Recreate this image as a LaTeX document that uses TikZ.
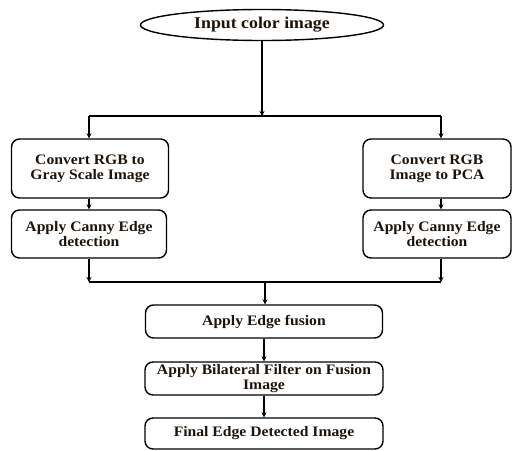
\documentclass[tikz,border=0pt]{standalone}
\usepackage{fontspec}
\newfontfamily\flowfont[FakeStretch=1.08]{Liberation Serif}
\usetikzlibrary{shapes.geometric,arrows.meta}

\tikzset{
	flowtext/.style={font=\flowfont\bfseries\fontsize{14.5}{15}\selectfont, text=black!85!brown},
	stepbox/.style={draw, line width=1.4pt, rounded corners=8pt, align=center, inner sep=1pt, flowtext},
	startoval/.style={draw, ellipse, line width=1.4pt, inner sep=0pt, flowtext, font=\flowfont\bfseries\fontsize{16.5}{17}\selectfont},
	flowline/.style={line width=1.4pt},
	flowarrow/.style={line width=1.4pt, -{Stealth[length=5pt,width=5pt]}}
}

\begin{document}
\begin{tikzpicture}[x=1pt,y=-1pt]
	\useasboundingbox (0,0) rectangle (513,450);
	
	\node[startoval, minimum width=243pt, minimum height=31pt] (input) at (262,25) {Input color image};
	
	\node[stepbox, minimum width=157pt, minimum height=59pt] (gray) at (90,168.5) {Convert RGB to\\Gray Scale Image};
	\node[stepbox, minimum width=155pt, minimum height=48pt] (cannyL) at (89,234) {Apply Canny Edge\\detection};
	\node[stepbox, minimum width=148pt, minimum height=59pt] (pca) at (437,168.5) {Convert RGB\\Image to PCA};
	\node[stepbox, minimum width=148pt, minimum height=48pt] (cannyR) at (437,234) {Apply Canny Edge\\detection};
	
	\node[stepbox, minimum width=237pt, minimum height=33pt] (fusion) at (264,321.5) {Apply Edge fusion};
	\node[stepbox, minimum width=238pt, minimum height=33pt] (bilat) at (264,378.5) {Apply Bilateral Filter on Fusion\\Image};
	\node[stepbox, minimum width=238pt, minimum height=31pt] (final) at (264,433.5) {Final Edge Detected Image};
	
	% split bar
	\coordinate (topL) at (89,116);
	\coordinate (topM) at (262,116);
	\coordinate (topR) at (441,116);
	\draw[flowarrow] (input) -- (topM);
	\draw[flowline] (topL) -- (topR);
	\draw[flowarrow] (topL) -- (topL |- gray.north);
	\draw[flowarrow] (topR) -- (topR |- pca.north);
	
	\draw[flowarrow] (topL |- gray.south) -- (topL |- cannyL.north);
	\draw[flowarrow] (topR |- pca.south) -- (topR |- cannyR.north);
	
	% join bar
	\coordinate (botL) at (89,282);
	\coordinate (botM) at (265,282);
	\coordinate (botR) at (441,282);
	\draw[flowarrow] (botL |- cannyL.south) -- (botL);
	\draw[flowarrow] (botR |- cannyR.south) -- (botR);
	\draw[flowline] (botL) -- (botR);
	\draw[flowarrow] (botM) -- (botM |- fusion.north);
	
	\draw[flowarrow] (fusion) -- (bilat);
	\draw[flowarrow] (bilat) -- (final);
\end{tikzpicture}
\end{document}
